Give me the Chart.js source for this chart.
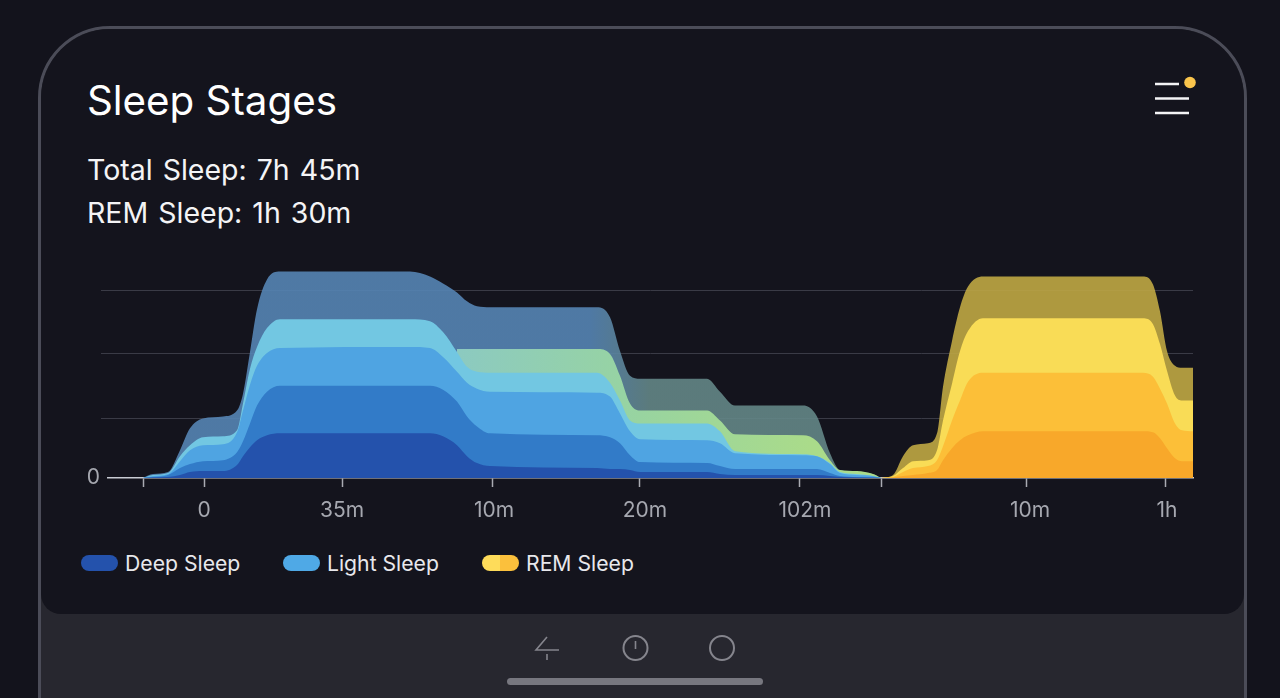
<!DOCTYPE html>
<html>
<head>
<meta charset="utf-8">
<script src="https://cdn.jsdelivr.net/npm/chart.js@4"></script>
<style>
  html, body { margin: 0; width: 1280px; height: 698px; overflow: hidden; background: #13131c; font-family: Inter, sans-serif; color: #fff; }
  #frame { position: absolute; left: 38px; top: 26px; width: 1203px; height: 760px; border: 3px solid #4b4c58; border-radius: 72px; background: #27272f; overflow: hidden; }
  #panel { position: absolute; left: 0; top: 0; right: 0; height: 585px; background: #14141d; border-radius: 0 0 20px 20px; }
  #title { position: absolute; left: 87px; top: 77px; font-size: 40.300px; font-weight: 400; line-height: 48px; }
  .stat { position: absolute; left: 87px; font-size: 28.500px; line-height: 36px; word-spacing: 2px; color: #f4f4f6; }
  #wrap { position: absolute; left: 0; top: 249px; width: 1280px; height: 280px; }
  #legend { position: absolute; top: 0; left: 0; }
  .item { position: absolute; top: 548px; height: 30px; line-height: 30px; font-size: 21.200px; color: #e8e8ec; white-space: nowrap; }
  .pill { position: absolute; top: 7px; left: -44px; width: 37px; height: 16px; border-radius: 8px; }
  svg { position: absolute; left: 0; top: 0; }
</style>
</head>
<body>
<div id="frame"><div id="panel"></div></div>
<div id="title">Sleep Stages</div>
<div class="stat" style="top:152px">Total Sleep: 7h 45m</div>
<div class="stat" style="top:195px">REM Sleep: 1h 30m</div>
<div id="wrap"><canvas id="chart" width="1280" height="280"></canvas></div>
<div id="legend"></div>
<svg width="1280" height="698" fill="none">
  <g stroke="#f4f4f6" stroke-width="2.400">
    <path d="M1155 84H1179M1155 98.500H1189M1155 113H1189"/>
  </g>
  <circle cx="1190" cy="82.500" r="5.800" fill="#fac54c"/>
  <g stroke="#85858d" stroke-width="2">
    <path d="M547 637L536 650H559M547 654V660" stroke-width="1.600"/>
    <circle cx="635.500" cy="648" r="12"/>
    <path d="M635.500 641V649"  stroke-width="1.600"/>
    <circle cx="722" cy="648" r="12"/>
  </g>
  <rect x="507" y="678" width="256" height="7" rx="3.500" fill="#77777f"/>
</svg>
<script>
const xMin = 108, xMax = 1193;

const tickMarks = [143, 204, 342, 492, 639, 799, 881, 1026, 1165];
const labelSpots = [204, 342, 494, 645, 805, 1030, 1167];
const labelTexts = ["0", "35m", "10m", "20m", "102m", "10m", "1h"];
const gridLevels = [0, 60, 125, 189];

const legendNames = ["Deep Sleep", "Light Sleep", "REM Sleep"];

// blue / green night block
const nightX = [143,153,168,180,190,203,223,237,243,250,257,267,280,410,430,443,457,467,477,490,597,610,620,630,640,707,720,735,803,817,830,840,857,873,881];
const nightHaze = [0,4,6,28,50,60,62,68,85,127,170,200,208,208,203,196,187,178,173,172,172,162,128,103,100,100,87,73,73,62,25,8,6,4,0];
const nightGreen = [null,null,null,null,null,null,null,null,null,null,null,null,null,null,null,null,130,130,130,130,130,125,103,75,68,68,58,44,43,37,18,8,7,4,0];
const nightCyan = [0,3,5,22,33,41,42,48,75,110,132,151,160,160,158,147,127,112,107,106,106,96,78,58,55,55,47,27,24,22,15,6,4,2,0];
const nightLight = [0,2,4,17,28,33,34,46,68,94,113,126,131,132,131,122,107,96,90,87,86,82,65,47,39,38,35,25,23,22,14,5,3,2,0];
const nightBlue = [0,1,3,10,14,17,18,26,37,55,73,87,93,93,93,89,77,62,52,45,43,41,35,23,16,15,12,9,9,9,5,2,1,1,0];
const nightDeep = [0,0.500,1,3,6,7,7,13,22,31,38,43,45,45,45,42,33,22,15,12,10,9,9,8,6,6,4,3,3,3,2,1,0.500,0,0];

// yellow block at the right
const remX = [881,893,903,913,928,937,943,952,960,968,983,1143,1153,1160,1167,1175,1182,1193];
const remHaze = [0,3,22,33,35,45,92,138,172,193,203,203,195,168,128,113,111,111];
const remPale = [0,2,10,17,18,28,58,95,128,148,161,161,155,135,108,83,78,78];
const remAmber = [0,1,6,10,12,18,32,58,78,97,106,106,102,90,75,55,48,47];
const remOrange = [0,0.500,2,3,5,8,18,30,38,43,47,47,46,40,30,20,17,17];

const pts = (xs, ys) => xs.map((x, i) => ({ x, y: ys[i] }));

function sweep(ctx, stops) {
  const g = ctx.chart.ctx.createLinearGradient(xMin, 0, xMax, 0);
  stops.forEach(s => g.addColorStop((s[0] - xMin) / (xMax - xMin), s[1]));
  return g;
}

const hazeFill = ctx => sweep(ctx, [[590, "rgba(85,132,180,0.9)"], [650, "rgba(99,134,135,0.9)"]]);
const greenFill = ctx => sweep(ctx, [[460, "#8ccac0"], [640, "#98d4a0"], [810, "#aadb8a"]]);

const area = (label, xs, ys, color) => ({
  label, data: pts(xs, ys), backgroundColor: color, borderWidth: 0, fill: "origin",
  pointRadius: 0, cubicInterpolationMode: "monotone", spanGaps: false
});

new Chart(document.getElementById("chart"), {
  type: "line",
  data: {
    datasets: [
      area("Deep Sleep", nightX, nightDeep, "#2452ac"),
      area("Deep Sleep outer", nightX, nightBlue, "#327bc8"),
      area("Light Sleep", nightX, nightLight, "#4fa4e2"),
      area("Light Sleep outer", nightX, nightCyan, "#72c7e2"),
      area("Light Sleep green", nightX, nightGreen, greenFill),
      area("Light Sleep haze", nightX, nightHaze, hazeFill),
      area("REM Sleep", remX, remOrange, "#f8a82a"),
      area("REM Sleep amber", remX, remAmber, "#fcbf38"),
      area("REM Sleep pale", remX, remPale, "#f9dc56"),
      area("REM Sleep haze", remX, remHaze, "rgba(191,167,68,0.9)")
    ]
  },
  options: {
    responsive: false,
    animation: false,
    layout: { padding: { right: 87 } },
    plugins: { legend: { display: false }, tooltip: { enabled: false } },
    scales: {
      x: {
        type: "linear", position: "bottom", min: xMin, max: xMax, z: 1,
        afterFit: s => { s.height = 9; },
        afterBuildTicks: s => { s.ticks = tickMarks.map(value => ({ value })); },
        ticks: { display: false },
        grid: { drawOnChartArea: false, tickLength: 9, tickColor: "#a9abb3", tickWidth: 1.500 },
        border: { color: "#c9ccd4", width: 1.500 }
      },
      labels: {
        type: "linear", position: "bottom", min: xMin, max: xMax,
        afterFit: s => { s.height = 42; },
        afterBuildTicks: s => { s.ticks = labelSpots.map(value => ({ value })); },
        ticks: {
          autoSkip: false, maxRotation: 0, padding: 3, color: "#a6a8b0",
          font: { family: "Inter", size: 21 },
          callback: v => labelTexts[labelSpots.indexOf(v)]
        },
        grid: { display: false },
        border: { display: false }
      },
      y: {
        min: 0, max: 217,
        afterFit: s => { s.width = 108; },
        afterBuildTicks: s => { s.ticks = gridLevels.map(value => ({ value })); },
        ticks: {
          padding: 1, color: "#a6a8b0",
          font: { family: "Inter", size: 21 },
          callback: v => v === 0 ? "0" : ""
        },
        grid: {
          tickLength: 7, lineWidth: 1,
          color: c => c.tick.value === 0 ? "transparent" : "#3a3b46",
          tickColor: c => c.tick.value === 0 ? "transparent" : "#3a3b46"
        },
        border: { display: false }
      }
    }
  }
});

// legend
const legendLeft = [125, 327, 526];
const legendFill = ["#2452ac", "#4fa9e6", "linear-gradient(90deg,#fedc5a 50%,#fbc03c 50%)"];
legendNames.forEach((name, i) => {
  const el = document.createElement("div");
  el.className = "item";
  el.style.left = legendLeft[i] + "px";
  el.textContent = name;
  const pill = document.createElement("div");
  pill.className = "pill";
  pill.style.background = legendFill[i];
  el.appendChild(pill);
  document.getElementById("legend").appendChild(el);
});
</script>
</body>
</html>
